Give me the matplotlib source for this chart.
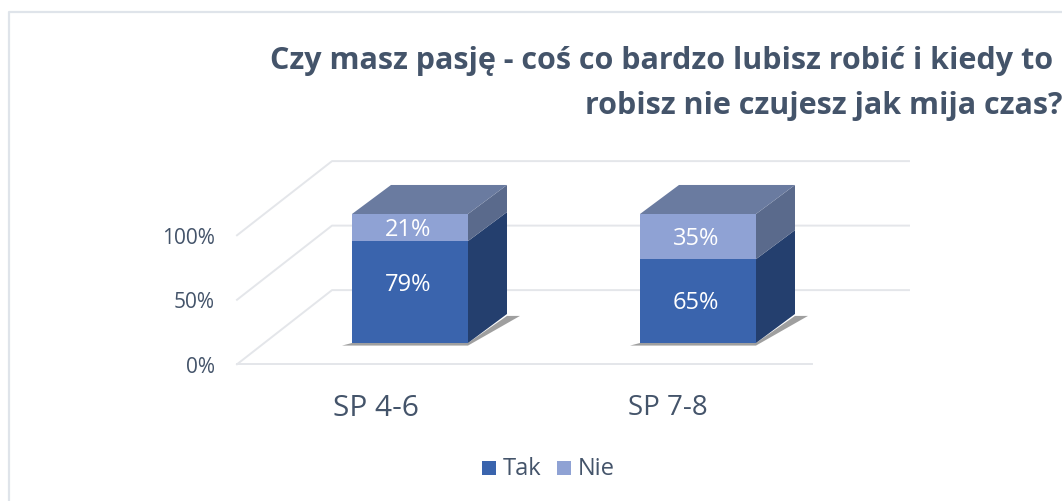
import matplotlib
matplotlib.use('Agg')
import matplotlib.pyplot as plt
from matplotlib.patches import Polygon, Rectangle

categories = ['SP 4-6', 'SP 7-8']
tak = [79, 65]
nie = [21, 35]
y_ticks = [0, 50, 100]
y_labels = ['0%', '50%', '100%']
title_lines = ['Czy masz pasję - coś co bardzo lubisz robić i kiedy to',
               'robisz nie czujesz jak mija czas?']

plt.rcParams['font.family'] = ['Open Sans', 'DejaVu Sans']

W, H = 1062, 502
PX = 1.29             # pixels per percent
BASE = 344            # pixel row of the bar fronts' base
DX, DY = 39, 22.5     # bar depth in x (px) and y (percent)
WALL_X, WALL_Y = 332, 41
FRONT_X, FRONT_Y = 237, -16.5

C_TAK, C_NIE = '#3a64ad', '#8fa2d4'
C_TAK_SIDE, C_NIE_SIDE = '#243f6e', '#5a6a8c'
C_TOP = '#6a7ba0'
C_TEXT = '#44546a'
C_GRID = '#e4e6ea'

fig = plt.figure(figsize=(W / 100, H / 100), dpi=100)
ax = fig.add_axes([0, 0, 1, 1])
ax.set_xlim(0, W)
ax.set_ylim((BASE - H) / PX, BASE / PX)
ax.axis('off')


def row(px):
    return (BASE - px) / PX


# chart frame
ax.plot([W + 5, 9, 9], [row(13), row(13), row(H + 5)], color='#dfe4ea', lw=1.6)

# title, runs off the right edge like the original
ax.text(270, row(61), title_lines[0], fontsize=22, fontweight='bold', color=C_TEXT, va='center')
ax.text(585, row(106), title_lines[1], fontsize=22, fontweight='bold', color=C_TEXT, va='center')

# back wall, side wall and floor lines
for t in y_ticks:
    ax.plot([FRONT_X, WALL_X, 909], [t + FRONT_Y, t + WALL_Y, t + WALL_Y], color=C_GRID, lw=1.4, zorder=1)
ax.plot([FRONT_X, 812], [FRONT_Y, FRONT_Y], color=C_GRID, lw=1.4, zorder=1)

for t, lab in zip(y_ticks, y_labels):
    ax.text(215, t + FRONT_Y - 1.5, lab, ha='right', va='center', fontsize=15, color=C_TEXT)

# bars
centers = [410, 698]
width = 116
cat_x = [376, 668]
cat_size = [21.5, 20]
tak_shift = [6.5, -1]   # the labels do not sit quite in the middle of the segment
for c, cat, a, b, cx, cs, ts in zip(centers, categories, tak, nie, cat_x, cat_size, tak_shift):
    x0, x1 = c - width / 2, c + width / 2
    top = a + b
    # shadow on the floor
    ax.add_patch(Polygon([(x0 - 10, -2), (x1, -2), (x1 + DX + 13, DY - 1.5), (x1 + DX, DY - 1.5), (x1, 0), (x0, 0)],
                         fc='#777777', ec='none', alpha=0.7, zorder=2))
    ax.bar(c, a, width, bottom=0, color=C_TAK, zorder=4)
    ax.bar(c, b, width, bottom=a, color=C_NIE, zorder=4)
    ax.add_patch(Polygon([(x1, 0), (x1 + DX, DY), (x1 + DX, a + DY), (x1, a)], fc=C_TAK_SIDE, ec='none', zorder=3))
    ax.add_patch(Polygon([(x1, a), (x1 + DX, a + DY), (x1 + DX, top + DY), (x1, top)], fc=C_NIE_SIDE, ec='none', zorder=3))
    ax.add_patch(Polygon([(x0, top), (x1, top), (x1 + DX, top + DY), (x0 + DX, top + DY)], fc=C_TOP, ec='none', zorder=3))
    ax.text(c - 2, a / 2 + ts, f'{a}%', ha='center', va='center', color='white', fontsize=17, zorder=5)
    ax.text(c - 2, a + b / 2 - 1, f'{b}%', ha='center', va='center', color='white', fontsize=17, zorder=5)
    ax.text(cx, row(408), cat, ha='center', va='center', color=C_TEXT, fontsize=cs)

# legend
ax.add_patch(Rectangle((482, row(476)), 14, 14 / PX, fc=C_TAK, ec='none'))
ax.text(503, row(469), 'Tak', va='center', color=C_TEXT, fontsize=17)
ax.add_patch(Rectangle((557, row(476)), 14, 14 / PX, fc=C_NIE, ec='none'))
ax.text(578, row(469), 'Nie', va='center', color=C_TEXT, fontsize=17)

fig.savefig('out.png', dpi=100)
